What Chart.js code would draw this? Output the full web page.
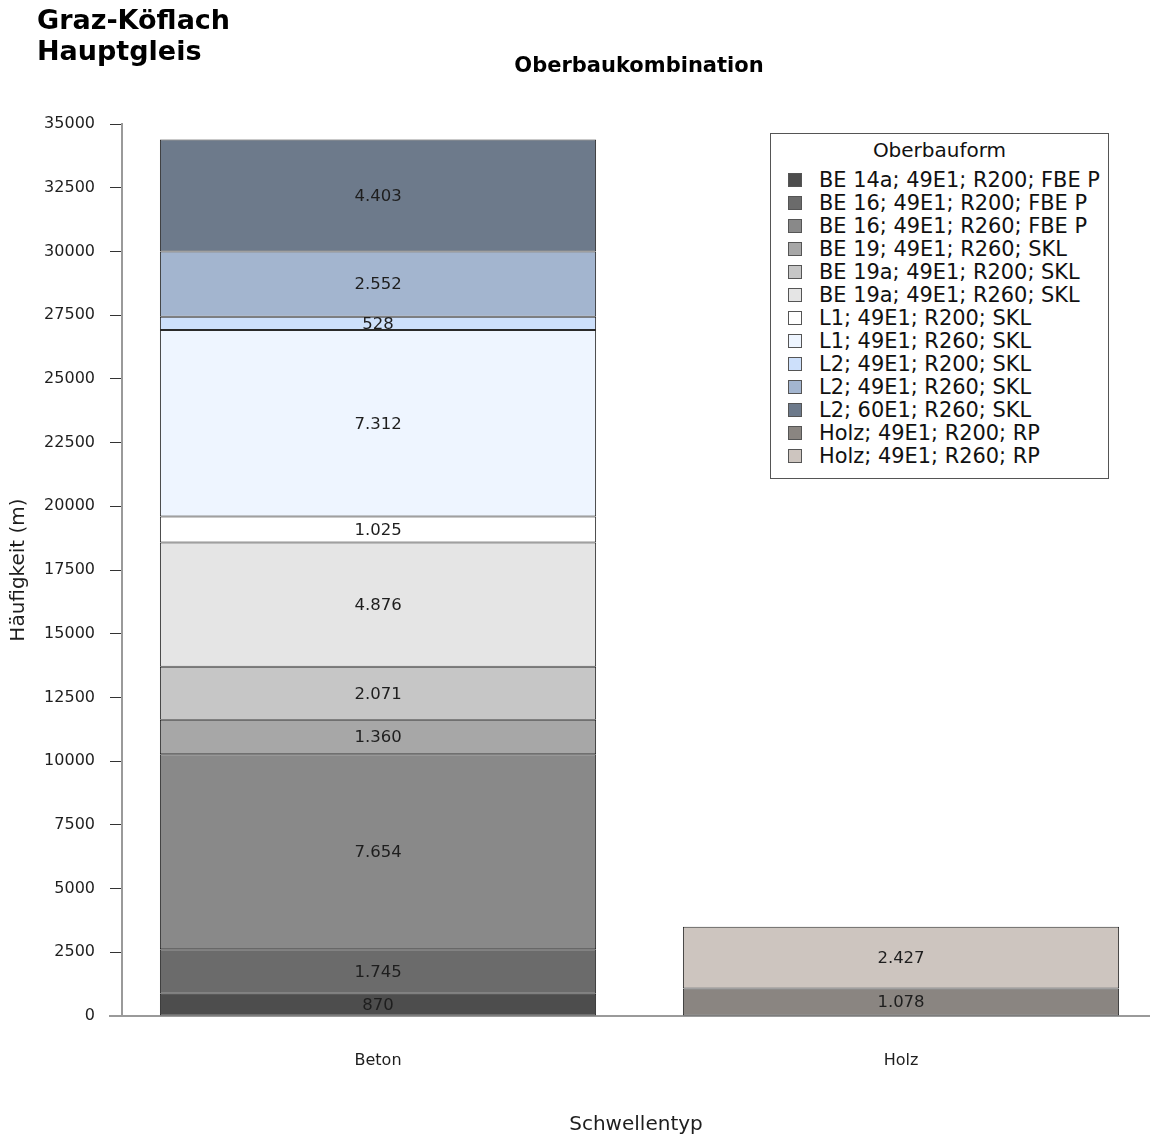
<!DOCTYPE html>
<html>
<head>
<meta charset="utf-8">
<title>Graz-Köflach Hauptgleis – Oberbaukombination</title>
<script src="https://cdn.jsdelivr.net/npm/chart.js@4/dist/chart.umd.min.js"></script>
<style>
  html, body { margin: 0; padding: 0; background: #fff; overflow: hidden; }
  body { width: 1150px; height: 1140px; position: relative; font-family: "DejaVu Sans", Verdana, sans-serif; color: #000; }
  #chart { position: absolute; left: 0; top: 0; }
  #heading { position: absolute; left: 37px; top: 4px; font-weight: bold; font-size: 27px; line-height: 31px; }
  #subtitle { position: absolute; left: 122px; width: 1034px; top: 52px; text-align: center; font-weight: bold; font-size: 21px; line-height: 26px; }
  #legend { position: absolute; left: 770px; top: 133px; width: 337px; height: 344px; border: 1px solid #555; background: #fff; }
  #legend .ttl { text-align: center; font-size: 20px; line-height: 24px; margin-top: 4px; color: #111; }
  #legend ul { list-style: none; margin: 6px 0 0 0; padding: 0; }
  #legend li { display: flex; align-items: center; height: 23px; font-size: 20.9px; color: #111; white-space: nowrap; }
  #legend .sw { box-sizing: border-box; width: 14px; height: 14px; border: 1px solid #555; margin-left: 17px; flex: none; }
  #legend .lb { margin-left: 17px; }
</style>
</head>
<body>
<canvas id="chart" width="1150" height="1140"></canvas>
<div id="heading">Graz-Köflach<br>Hauptgleis</div>
<div id="subtitle">Oberbaukombination</div>
<div id="legend"><div class="ttl">Oberbauform</div><ul id="legendItems"></ul></div>

<script>
// Sleeper types on the x axis
const categories = ["Beton", "Holz"];

// Track superstructure forms, stacked bottom to top
const seriesNames = [
  "BE 14a; 49E1; R200; FBE P",
  "BE 16; 49E1; R200; FBE P",
  "BE 16; 49E1; R260; FBE P",
  "BE 19; 49E1; R260; SKL",
  "BE 19a; 49E1; R200; SKL",
  "BE 19a; 49E1; R260; SKL",
  "L1; 49E1; R200; SKL",
  "L1; 49E1; R260; SKL",
  "L2; 49E1; R200; SKL",
  "L2; 49E1; R260; SKL",
  "L2; 60E1; R260; SKL",
  "Holz; 49E1; R200; RP",
  "Holz; 49E1; R260; RP"
];

// Length in metres per form on concrete sleepers
const betonValues = [870, 1745, 7654, 1360, 2071, 4876, 1025, 7312, 528, 2552, 4403, null, null];
// Length in metres per form on wooden sleepers
const holzValues = [null, null, null, null, null, null, null, null, null, null, null, 1078, 2427];

const seriesColors = [
  "#4d4d4d", "#6b6b6b", "#898989", "#a7a7a7", "#c6c6c6", "#e5e5e5",
  "#ffffff", "#eef5ff", "#cde0fb", "#a3b5cf", "#6d7a8b",
  "#8a8581", "#cdc5bf"
];

const yTicksMax = 35000;
const yTicksStep = 2500;

// German number format with dot as thousands separator
function fmtDE(v) {
  return String(Math.round(v)).replace(/\B(?=(\d{3})+(?!\d))/g, ".");
}

const datasets = seriesNames.map((name, i) => {
  const pts = [];
  [betonValues[i], holzValues[i]].forEach((v, c) => {
    if (v !== null && v !== undefined) pts.push({ x: c, y: v });
  });
  return {
    label: name,
    data: pts,
    backgroundColor: seriesColors[i],
    borderColor: "#2a2a2a",
    borderWidth: 1,
    borderSkipped: false,
    categoryPercentage: 1.0,
    barPercentage: 0.834
  };
});

// Value labels centred in each segment
const segmentLabels = {
  id: "segmentLabels",
  afterDatasetsDraw(chart) {
    const ctx = chart.ctx;
    ctx.save();
    ctx.font = '16.5px "DejaVu Sans", Verdana, sans-serif';
    ctx.fillStyle = "#1e1e1e";
    ctx.textAlign = "center";
    ctx.textBaseline = "middle";
    chart.data.datasets.forEach((ds, di) => {
      const meta = chart.getDatasetMeta(di);
      meta.data.forEach((el, j) => {
        const v = ds.data[j].y;
        const p = el.getProps(["x", "y", "base"], true);
        ctx.fillText(fmtDE(v), p.x, (p.y + p.base) / 2 + 1);
      });
    });
    ctx.restore();
  }
};

// Zero baseline running slightly past the value axis
const baseline = {
  id: "baseline",
  beforeDatasetsDraw(chart) {
    const ctx = chart.ctx;
    const ca = chart.chartArea;
    const y0 = chart.scales.y.getPixelForValue(0);
    ctx.save();
    ctx.strokeStyle = "#9a9a9a";
    ctx.lineWidth = 2;
    ctx.beginPath();
    ctx.moveTo(ca.left - 13, y0);
    ctx.lineTo(ca.right, y0);
    ctx.stroke();
    ctx.restore();
  }
};

const chart = new Chart(document.getElementById("chart"), {
  type: "bar",
  data: { datasets },
  plugins: [baseline, segmentLabels],
  options: {
    responsive: false,
    animation: false,
    devicePixelRatio: 1,
    layout: { padding: { top: 124, left: 0, right: 0, bottom: 0 } },
    plugins: {
      legend: { display: false },
      title: { display: false },
      tooltip: { enabled: false }
    },
    scales: {
      x: {
        type: "linear",
        stacked: true,
        offset: false,
        min: -0.4895,
        max: 1.4761,
        afterBuildTicks(scale) {
          scale.ticks = categories.map((c, i) => ({ value: i }));
        },
        afterFit(scale) { scale.height = 124; },
        ticks: {
          callback: (v) => categories[v] ?? "",
          font: { family: '"DejaVu Sans", Verdana, sans-serif', size: 16 },
          color: "#1e1e1e",
          padding: 35,
          maxRotation: 0,
          autoSkip: false
        },
        grid: { display: false, drawTicks: false },
        border: { display: false },
        title: {
          display: true,
          text: "Schwellentyp",
          font: { family: '"DejaVu Sans", Verdana, sans-serif', size: 20 },
          color: "#1e1e1e",
          padding: { top: 0, bottom: 3 }
        }
      },
      y: {
        stacked: true,
        min: 0,
        max: yTicksMax,
        afterFit(scale) { scale.width = 122; },
        ticks: {
          stepSize: yTicksStep,
          autoSkip: false,
          callback: (v) => String(v),
          font: { family: '"DejaVu Sans", Verdana, sans-serif', size: 16 },
          color: "#1e1e1e",
          padding: 15
        },
        grid: {
          drawOnChartArea: false,
          drawTicks: true,
          tickLength: 12,
          color: "#333333",
          lineWidth: 1
        },
        border: { display: true, color: "#9a9a9a", width: 2 },
        title: {
          display: true,
          text: "Häufigkeit (m)",
          font: { family: '"DejaVu Sans", Verdana, sans-serif', size: 20 },
          color: "#1e1e1e",
          padding: { top: 7, bottom: 0 }
        }
      }
    }
  }
});

// Legend built from the chart's own datasets
const list = document.getElementById("legendItems");
chart.data.datasets.forEach((ds) => {
  const li = document.createElement("li");
  const sw = document.createElement("span");
  sw.className = "sw";
  sw.style.background = ds.backgroundColor;
  const lb = document.createElement("span");
  lb.className = "lb";
  lb.textContent = ds.label;
  li.appendChild(sw);
  li.appendChild(lb);
  list.appendChild(li);
});
</script>
</body>
</html>
